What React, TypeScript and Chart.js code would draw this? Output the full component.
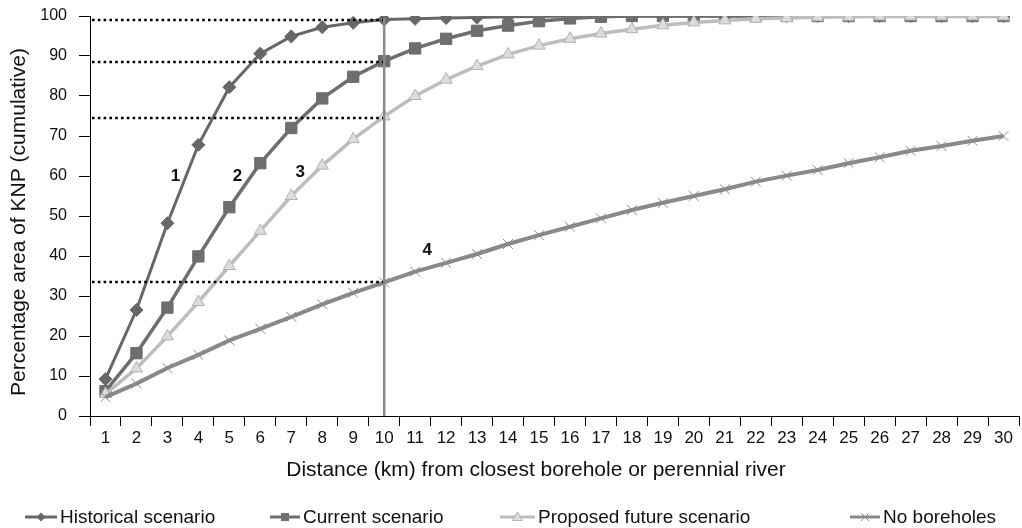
import React, { useEffect, useRef } from "react";
import { Chart, registerables } from "chart.js";

Chart.register(...registerables);

// ---- Data ----
const distances = [
  "1", "2", "3", "4", "5", "6", "7", "8", "9", "10",
  "11", "12", "13", "14", "15", "16", "17", "18", "19", "20",
  "21", "22", "23", "24", "25", "26", "27", "28", "29", "30",
];

const historical = [
  9.2, 26.5, 48.2, 67.8, 82.2, 90.6, 94.9, 97.2, 98.3, 99.1,
  99.3, 99.5, 99.6, 99.8, 99.9, 100, 100, 100, 100, 100,
  100, 100, 100, 100, 100, 100, 100, 100, 100, 100,
];

const current = [
  6.2, 15.7, 27.1, 39.9, 52.2, 63.2, 72.0, 79.4, 84.8, 88.7,
  91.9, 94.3, 96.3, 97.6, 98.7, 99.4, 99.8, 100, 100, 100,
  100, 100, 100, 100, 100, 100, 100, 100, 100, 100,
];

const proposed = [
  5.5, 11.9, 19.9, 28.5, 37.5, 46.3, 55.0, 62.6, 69.2, 74.9,
  80.0, 84.1, 87.5, 90.4, 92.6, 94.3, 95.6, 96.7, 97.7, 98.4,
  98.9, 99.3, 99.5, 99.7, 99.8, 99.9, 99.9, 99.9, 99.9, 99.9,
];

const noBoreholes = [
  4.7, 8.1, 12.0, 15.3, 18.9, 21.8, 24.8, 27.9, 30.8, 33.4,
  36.1, 38.3, 40.5, 43.0, 45.2, 47.3, 49.4, 51.5, 53.3, 55.0,
  56.7, 58.6, 60.1, 61.5, 63.2, 64.7, 66.3, 67.5, 68.8, 70.0,
];

const seriesNames = [
  "Historical scenario",
  "Current scenario",
  "Proposed future scenario",
  "No boreholes",
];

// reference (dotted) levels read at 10 km
const refLevels = [99, 88.5, 74.5, 33.5];
const refDistance = "10";

// curve number labels
const curveLabels = ["1", "2", "3", "4"];

const yTicks = [0, 10, 20, 30, 40, 50, 60, 70, 80, 90, 100];

const FONT = "'Liberation Sans', Arial, Helvetica, sans-serif";

const COLORS = {
  hist: "#676767",
  cur: "#6e6e6e",
  propLine: "#bdbdbd",
  propFill: "#dcdcdc",
  propBorder: "#b3b3b3",
  none: "#898989",
  vline: "#8a8a8a",
  text: "#111111",
};

function drawMarker(
  ctx: CanvasRenderingContext2D,
  kind: string,
  x: number,
  y: number,
  r: number
) {
  ctx.save();
  ctx.beginPath();
  if (kind === "diamond") {
    ctx.fillStyle = COLORS.hist;
    ctx.moveTo(x, y - r);
    ctx.lineTo(x + r, y);
    ctx.lineTo(x, y + r);
    ctx.lineTo(x - r, y);
    ctx.closePath();
    ctx.fill();
  } else if (kind === "square") {
    ctx.fillStyle = COLORS.cur;
    ctx.rect(x - r, y - r, 2 * r, 2 * r);
    ctx.fill();
  } else if (kind === "triangle") {
    ctx.fillStyle = COLORS.propFill;
    ctx.strokeStyle = COLORS.propBorder;
    ctx.lineWidth = 1;
    ctx.moveTo(x, y - r);
    ctx.lineTo(x + r, y + r * 0.7);
    ctx.lineTo(x - r, y + r * 0.7);
    ctx.closePath();
    ctx.fill();
    ctx.stroke();
  } else if (kind === "cross") {
    ctx.strokeStyle = COLORS.none;
    ctx.lineWidth = 1;
    ctx.moveTo(x - r, y - r);
    ctx.lineTo(x + r, y + r);
    ctx.moveTo(x + r, y - r);
    ctx.lineTo(x - r, y + r);
    ctx.stroke();
  }
  ctx.restore();
}

const overlayPlugin = {
  id: "overlay",
  afterDatasetsDraw(chart: any) {
    const { ctx, chartArea, scales } = chart;
    const x = scales.x;
    const y = scales.y;
    const vx = x.getPixelForValue(distances.indexOf(refDistance));
    ctx.save();
    ctx.strokeStyle = "#000";
    ctx.lineWidth = 2.6;
    ctx.setLineDash([2.6, 3.2]);
    for (const lv of refLevels) {
      const py = y.getPixelForValue(lv);
      ctx.beginPath();
      ctx.moveTo(chartArea.left + 2, py);
      ctx.lineTo(vx, py);
      ctx.stroke();
    }
    ctx.setLineDash([]);
    ctx.strokeStyle = COLORS.vline;
    ctx.lineWidth = 2.5;
    ctx.beginPath();
    ctx.moveTo(vx, y.getPixelForValue(Math.max(...refLevels)) - 2);
    ctx.lineTo(vx, chartArea.bottom);
    ctx.stroke();
    ctx.restore();
  },
  afterDraw(chart: any) {
    const { ctx, scales } = chart;
    const x = scales.x;
    const y = scales.y;
    ctx.save();
    ctx.fillStyle = COLORS.text;
    ctx.textAlign = "center";
    ctx.textBaseline = "middle";

    // curve number labels (placed in data coordinates)
    const labelPos = [
      [2.26, 59.8],
      [4.26, 59.8],
      [6.29, 60.8],
      [10.39, 41.5],
    ];
    ctx.font = `bold 17px ${FONT}`;
    curveLabels.forEach((t, i) => {
      ctx.fillText(
        t,
        x.getPixelForValue(labelPos[i][0]),
        y.getPixelForValue(labelPos[i][1])
      );
    });

    // axis titles
    ctx.font = `21px ${FONT}`;
    ctx.fillText(
      "Distance (km) from closest borehole or perennial river",
      536,
      470
    );
    ctx.save();
    ctx.translate(19, 222);
    ctx.rotate(-Math.PI / 2);
    ctx.fillText("Percentage area of KNP (cumulative)", 0, 0);
    ctx.restore();

    // legend
    const items = [
      { kind: "diamond", color: COLORS.hist, x0: 25, x1: 57, tx: 60, r: 4.5 },
      { kind: "square", color: COLORS.cur, x0: 270, x1: 300, tx: 303, r: 4 },
      { kind: "triangle", color: COLORS.propLine, x0: 500, x1: 535, tx: 538, r: 5 },
      { kind: "cross", color: COLORS.none, x0: 850, x1: 880, tx: 883, r: 4 },
    ];
    const ly = 517;
    ctx.font = `19px ${FONT}`;
    ctx.textAlign = "left";
    items.forEach((it, i) => {
      ctx.save();
      ctx.strokeStyle = it.color;
      ctx.lineWidth = 3;
      ctx.beginPath();
      ctx.moveTo(it.x0, ly);
      ctx.lineTo(it.x1, ly);
      ctx.stroke();
      ctx.restore();
      drawMarker(ctx, it.kind, (it.x0 + it.x1) / 2, ly, it.r);
      ctx.fillStyle = COLORS.text;
      ctx.fillText(seriesNames[i], it.tx, ly + 1);
    });
    ctx.restore();
  },
};

export default function App() {
  const canvasRef = useRef<HTMLCanvasElement>(null);

  useEffect(() => {
    document.body.style.margin = "0";
    const canvas = canvasRef.current;
    if (!canvas) return;
    const chart = new Chart(canvas, {
      type: "line",
      data: {
        labels: distances,
        datasets: [
          {
            label: seriesNames[0],
            data: historical,
            borderColor: COLORS.hist,
            backgroundColor: COLORS.hist,
            borderWidth: 3,
            pointStyle: "rectRot",
            pointRadius: 6.5,
            pointBackgroundColor: COLORS.hist,
            pointBorderColor: COLORS.hist,
            pointBorderWidth: 1,
            tension: 0,
            order: 3,
          },
          {
            label: seriesNames[1],
            data: current,
            borderColor: COLORS.cur,
            backgroundColor: COLORS.cur,
            borderWidth: 3.5,
            pointStyle: "rect",
            pointRadius: 8,
            pointBackgroundColor: COLORS.cur,
            pointBorderColor: COLORS.cur,
            pointBorderWidth: 1,
            tension: 0,
            order: 2,
          },
          {
            label: seriesNames[2],
            data: proposed,
            borderColor: COLORS.propLine,
            backgroundColor: COLORS.propFill,
            borderWidth: 3.5,
            pointStyle: "triangle",
            pointRadius: 7,
            pointBackgroundColor: COLORS.propFill,
            pointBorderColor: COLORS.propBorder,
            pointBorderWidth: 1,
            tension: 0,
            order: 1,
          },
          {
            label: seriesNames[3],
            data: noBoreholes,
            borderColor: COLORS.none,
            backgroundColor: COLORS.none,
            borderWidth: 4,
            pointStyle: "crossRot",
            pointRadius: 7,
            pointBorderColor: COLORS.none,
            pointBorderWidth: 1,
            tension: 0,
            order: 0,
          },
        ],
      },
      options: {
        animation: false,
        responsive: false,
        layout: {
          autoPadding: false,
          padding: { top: 16, right: 3, left: 0, bottom: 0 },
        },
        plugins: {
          legend: { display: false },
          tooltip: { enabled: false },
        },
        scales: {
          x: {
            type: "category",
            offset: true,
            grid: {
              offset: true,
              drawOnChartArea: false,
              drawTicks: true,
              tickLength: 10,
              color: "#000",
            },
            border: { color: "#000", width: 1 },
            ticks: {
              autoSkip: false,
              maxRotation: 0,
              padding: 2,
              color: COLORS.text,
              font: { family: FONT, size: 17 },
            },
            afterFit: (scale: any) => {
              scale.height = 112;
              scale.paddingLeft = 0;
              scale.paddingRight = 0;
              scale.paddingTop = 0;
              scale.paddingBottom = 0;
            },
          },
          y: {
            min: 0,
            max: 100,
            afterBuildTicks: (scale: any) => {
              scale.ticks = yTicks.map((v) => ({ value: v }));
            },
            grid: {
              drawOnChartArea: false,
              drawTicks: true,
              tickLength: 11,
              color: "#000",
            },
            border: { color: "#000", width: 1 },
            ticks: {
              padding: 12,
              color: COLORS.text,
              font: { family: FONT, size: 16 },
            },
            afterFit: (scale: any) => {
              scale.width = 90;
              scale.paddingLeft = 0;
              scale.paddingRight = 0;
              scale.paddingTop = 0;
              scale.paddingBottom = 0;
            },
          },
        },
      },
      plugins: [overlayPlugin],
    });
    return () => chart.destroy();
  }, []);

  return (
    <div style={{ width: 1022, height: 528, position: "relative" }}>
      <canvas
        ref={canvasRef}
        width={1022}
        height={528}
        style={{ display: "block", width: 1022, height: 528 }}
      />
    </div>
  );
}
